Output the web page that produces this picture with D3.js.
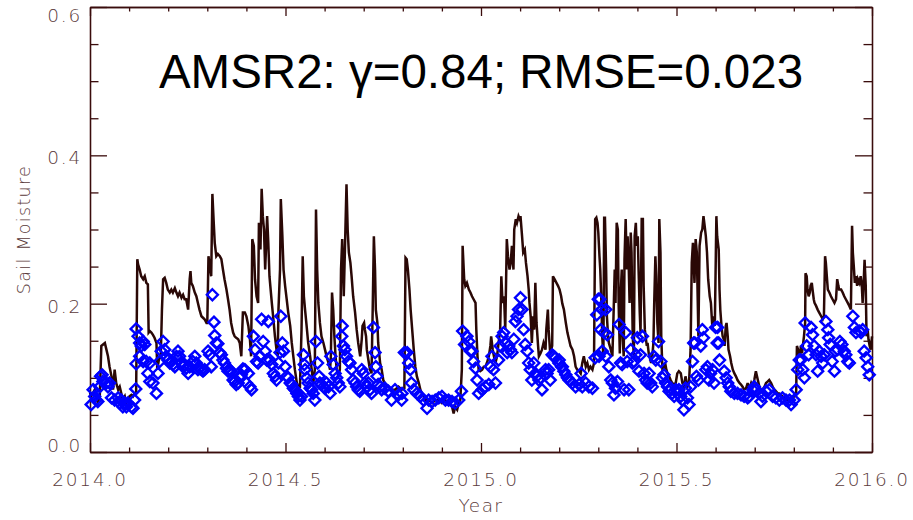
<!DOCTYPE html>
<html>
<head>
<meta charset="utf-8">
<script src="https://cdn.jsdelivr.net/npm/d3@7"></script>
<style>
  body { margin: 0; background: #fff; }
  svg { display: block; }
</style>
</head>
<body>
<div id="container"></div>
<script>
/* DATA */
// [years after 2014.0, soil moisture] - in situ daily record (dark line)
const insituSeries = [
  [.000,.080],[.003,.075],[.012,.084],[.020,.066],[.025,.075],[.029,.143],[.038,.147],[.042,.138],[.046,.129],[.050,.115],
  [.055,.102],[.059,.084],[.063,.111],[.067,.093],[.072,.084],[.076,.088],[.080,.079],[.084,.070],[.089,.075],[.093,.066],
  [.097,.070],[.101,.075],[.106,.077],[.110,.075],[.114,.079],[.118,.080],[.121,.260],[.123,.253],[.127,.246],[.131,.237],
  [.136,.233],[.140,.237],[.144,.228],[.148,.226],[.150,.161],[.153,.163],[.157,.161],[.161,.158],[.165,.154],[.170,.147],
  [.172,.111],[.176,.124],[.181,.129],[.184,.192],[.187,.233],[.191,.235],[.195,.228],[.199,.219],[.204,.215],[.208,.219],
  [.212,.215],[.217,.221],[.221,.215],[.225,.210],[.229,.215],[.234,.208],[.238,.212],[.242,.206],[.246,.206],[.251,.192],
  [.255,.233],[.257,.244],[.259,.228],[.263,.224],[.268,.215],[.272,.210],[.276,.201],[.280,.192],[.285,.183],[.289,.181],
  [.293,.179],[.298,.174],[.300,.174],[.303,.264],[.306,.253],[.310,.237],[.313,.348],[.316,.314],[.319,.282],[.323,.264],
  [.327,.267],[.332,.264],[.336,.260],[.340,.246],[.344,.233],[.349,.219],[.353,.206],[.357,.192],[.361,.174],[.366,.161],
  [.370,.156],[.374,.154],[.379,.152],[.383,.147],[.387,.129],[.391,.188],[.396,.188],[.400,.183],
  [.405,.170],[.409,.152],[.412,.129],[.415,.287],[.419,.278],[.422,.233],[.426,.210],[.430,.201],[.432,.309],[.436,.273],
  [.439,.355],[.442,.318],[.445,.300],[.448,.246],[.450,.273],[.453,.318],[.456,.282],[.459,.237],[.462,.219],[.465,.201],
  [.469,.179],[.473,.156],[.477,.138],[.480,.129],[.482,.192],[.486,.246],[.488,.341],[.492,.291],[.495,.246],[.499,.224],
  [.503,.206],[.507,.188],[.512,.170],[.516,.147],[.520,.129],[.524,.111],[.529,.093],[.533,.088],[.537,.088],[.541,.165],
  [.544,.264],[.547,.210],[.550,.192],[.554,.170],[.558,.147],[.563,.129],[.567,.111],[.571,.093],[.575,.111],[.578,.327],
  [.581,.246],[.584,.201],[.588,.174],[.592,.156],[.597,.147],[.601,.138],[.605,.129],[.610,.120],[.614,.111],[.616,.129],
  [.619,.215],[.622,.192],[.625,.156],[.628,.129],[.631,.111],[.635,.102],[.639,.111],[.642,.246],[.645,.287],[.649,.210],
  [.652,.273],[.656,.361],[.659,.300],[.662,.269],[.666,.255],[.669,.237],[.673,.210],[.678,.188],[.682,.165],[.686,.147],
  [.691,.129],[.695,.152],[.697,.170],[.701,.174],[.703,.165],[.706,.156],[.708,.138],[.712,.124],[.716,.111],[.720,.106],
  [.723,.192],[.726,.291],[.729,.246],[.731,.192],[.735,.174],[.737,.147],[.742,.120],[.746,.111],[.750,.097],[.754,.093],
  [.763,.088],[.771,.084],[.780,.084],[.789,.088],[.797,.084],[.804,.086],
  [.807,.262],[.810,.260],[.813,.246],[.817,.219],[.820,.192],[.824,.165],[.828,.138],[.832,.115],[.836,.102],[.841,.093],
  [.845,.084],[.849,.079],[.853,.075],[.858,.070],[.866,.070],[.875,.066],[.883,.070],[.892,.070],[.900,.066],[.909,.070],
  [.917,.066],[.926,.061],[.930,.052],[.934,.061],[.939,.057],[.943,.066],[.947,.070],[.951,.111],[.953,.278],[.957,.233],
  [.960,.224],[.964,.228],[.969,.219],[.973,.215],[.977,.210],[.981,.206],[.986,.201],[.988,.165],[.991,.129],[.994,.111],
  [.998,.109],[1.003,.111],[1.007,.115],[1.011,.115],[1.015,.120],[1.020,.129],[1.024,.143],[1.026,.156],[1.030,.138],[1.033,.129],
  [1.037,.120],[1.041,.129],[1.045,.147],[1.049,.165],[1.052,.237],[1.055,.201],[1.059,.210],[1.062,.165],[1.066,.287],[1.069,.264],
  [1.073,.246],[1.076,.255],[1.079,.278],[1.083,.246],[1.085,.300],[1.089,.314],[1.092,.309],[1.096,.318],[1.099,.314],[1.101,.318],
  [1.105,.291],[1.108,.269],[1.112,.273],[1.115,.255],[1.119,.237],[1.122,.219],[1.124,.201],[1.127,.183],[1.130,.147],[1.133,.183],
  [1.136,.165],[1.139,.228],[1.142,.174],[1.146,.143],[1.148,.129],[1.152,.133],[1.156,.138],[1.160,.147],[1.165,.138],[1.167,.165],
  [1.171,.192],[1.173,.165],[1.177,.133],[1.182,.143],[1.184,.237],[1.188,.233],[1.193,.228],[1.197,.224],[1.201,.219],[1.205,.210],
  [1.208,.200],[1.212,.192],[1.217,.174],[1.221,.161],[1.225,.152],[1.229,.143],[1.234,.138],[1.238,.129],[1.242,.115],[1.246,.111],
  [1.251,.109],[1.255,.106],[1.259,.120],[1.263,.129],[1.268,.115],[1.272,.120],[1.276,.111],[1.280,.115],[1.285,.111],[1.289,.120],
  [1.292,.314],[1.295,.316],[1.298,.309],[1.300,.296],[1.303,.264],[1.305,.246],[1.308,.201],[1.310,.156],[1.313,.129],[1.315,.316],
  [1.317,.316],[1.320,.246],[1.322,.183],[1.325,.156],[1.327,.147],[1.332,.138],[1.336,.129],[1.338,.165],[1.342,.246],[1.344,.201],
  [1.347,.309],[1.350,.300],[1.352,.201],[1.355,.133],[1.357,.210],[1.360,.246],[1.362,.156],[1.365,.129],[1.367,.260],[1.370,.314],
  [1.373,.246],[1.375,.291],[1.378,.246],[1.380,.201],[1.383,.296],[1.385,.269],[1.388,.156],[1.391,.129],[1.393,.291],[1.396,.309],
  [1.398,.278],[1.401,.291],[1.403,.246],[1.406,.188],[1.408,.161],[1.411,.314],[1.414,.314],[1.416,.224],[1.419,.165],[1.421,.156],
  [1.424,.143],[1.426,.147],[1.429,.133],[1.431,.129],[1.435,.120],[1.438,.129],[1.441,.147],[1.443,.201],[1.446,.264],[1.448,.237],
  [1.451,.174],[1.454,.147],[1.456,.314],[1.459,.269],[1.461,.156],[1.464,.111],[1.467,.111],[1.471,.120],[1.474,.111],[1.477,.106],
  [1.481,.102],[1.485,.097],[1.489,.093],[1.494,.091],[1.498,.093],[1.502,.106],[1.506,.109],[1.511,.106],[1.515,.093],[1.519,.088],
  [1.523,.102],[1.528,.088],[1.532,.093],[1.536,.138],[1.539,.255],[1.542,.282],[1.546,.228],[1.549,.287],[1.552,.269],[1.556,.156],
  [1.559,.278],[1.563,.296],[1.566,.300],[1.569,.318],[1.572,.305],[1.575,.291],[1.578,.269],[1.581,.233],[1.585,.210],[1.588,.201],
  [1.592,.165],[1.595,.183],[1.598,.170],[1.602,.318],
  [1.604,.291],[1.608,.273],[1.610,.219],[1.612,.192],[1.615,.170],[1.618,.156],[1.621,.152],[1.623,.143],[1.626,.170],[1.628,.174],
  [1.631,.156],[1.633,.138],[1.637,.129],[1.640,.120],[1.644,.111],[1.648,.106],[1.652,.102],[1.656,.097],[1.661,.093],[1.665,.091],
  [1.669,.088],[1.673,.084],[1.678,.086],[1.682,.093],[1.685,.084],[1.688,.088],[1.691,.093],[1.695,.088],[1.699,.097],[1.703,.109],
  [1.708,.097],[1.712,.088],[1.716,.084],[1.720,.084],[1.725,.088],[1.729,.093],[1.733,.095],[1.737,.097],[1.742,.093],[1.746,.088],
  [1.750,.084],[1.754,.082],[1.759,.079],[1.763,.079],[1.767,.077],[1.771,.075],[1.776,.073],[1.780,.070],[1.784,.070],[1.789,.070],
  [1.793,.070],[1.797,.073],[1.801,.075],[1.806,.079],[1.808,.143],[1.811,.138],[1.813,.129],[1.816,.129],[1.818,.143],[1.821,.133],
  [1.824,.147],[1.826,.156],[1.829,.174],[1.830,.241],[1.833,.237],[1.835,.219],[1.838,.210],[1.841,.215],[1.843,.224],[1.846,.228],
  [1.848,.219],[1.851,.206],[1.853,.201],[1.857,.197],[1.861,.192],[1.865,.188],[1.870,.183],[1.874,.179],[1.877,.183],[1.880,.264],
  [1.882,.255],[1.885,.233],[1.887,.219],[1.891,.215],[1.895,.210],[1.899,.206],[1.904,.201],[1.908,.206],[1.911,.233],[1.914,.224],
  [1.916,.219],[1.921,.219],[1.925,.215],[1.929,.210],[1.933,.206],[1.938,.201],[1.942,.197],[1.946,.192],[1.949,.305],[1.951,.269],
  [1.954,.246],[1.956,.228],[1.959,.237],[1.962,.224],[1.964,.233],[1.968,.228],[1.971,.237],[1.974,.224],[1.976,.201],[1.979,.233],
  [1.981,.259],[1.984,.224],[1.986,.156],[1.989,.165],[1.991,.152],[1.994,.143],[1.997,.138],[2.000,.156]
];

// [years after 2014.0, soil moisture] - AMSR2 retrievals (blue diamonds)
const amsr2Series = [
  [.008,.084],[.012,.075],[.003,.064],[.016,.070],[.020,.068],[.025,.088],[.027,.102],[.031,.104],[.033,.095],[.042,.093],
  [.046,.088],[.050,.093],[.055,.073],[.063,.070],[.072,.073],[.076,.066],[.080,.070],[.084,.061],[.089,.066],[.093,.061],
  [.097,.066],[.106,.061],[.110,.059],[.114,.070],[.117,.085],[.118,.119],[.118,.166],[.123,.156],[.127,.147],[.131,.143],
  [.136,.149],[.140,.145],[.127,.129],[.136,.122],[.144,.122],[.153,.120],[.148,.106],[.153,.095],[.161,.093],[.170,.079],
  [.174,.106],[.178,.122],[.182,.136],[.187,.149],[.191,.138],[.195,.129],[.199,.124],[.204,.120],[.208,.122],[.212,.118],
  [.217,.115],[.221,.129],[.225,.136],[.229,.129],[.234,.120],[.238,.115],[.242,.118],[.246,.113],[.251,.106],[.255,.115],
  [.263,.122],[.268,.129],[.272,.120],[.276,.111],[.280,.113],[.285,.111],[.289,.109],[.293,.111],[.302,.136],[.306,.131],
  [.310,.115],[.313,.212],[.317,.175],[.319,.157],[.323,.147],[.327,.146],[.332,.134],[.336,.131],[.340,.124],[.344,.120],
  [.349,.113],[.353,.109],[.357,.111],[.361,.109],[.366,.097],[.370,.095],[.374,.091],[.379,.093],[.383,.100],[.387,.104],
  [.391,.112],[.396,.111],[.400,.093],
  [.405,.106],[.409,.088],[.413,.084],[.418,.156],[.422,.138],[.426,.122],[.430,.120],[.435,.129],[.439,.179],[.443,.149],
  [.448,.136],[.452,.124],[.456,.176],[.460,.124],[.465,.118],[.469,.106],[.473,.102],[.477,.097],[.482,.120],[.486,.134],
  [.488,.183],[.492,.147],[.495,.136],[.499,.115],[.503,.102],[.507,.100],[.512,.093],[.516,.091],[.520,.086],[.524,.084],
  [.529,.079],[.533,.075],[.537,.070],[.541,.075],[.546,.131],[.548,.118],[.550,.111],[.554,.100],[.558,.093],[.563,.086],
  [.567,.084],[.571,.079],[.575,.070],[.578,.149],[.582,.120],[.586,.102],[.588,.093],[.592,.091],[.597,.088],[.601,.086],
  [.605,.093],[.610,.088],[.614,.079],[.616,.129],[.622,.118],[.627,.106],[.631,.100],[.635,.093],[.639,.088],[.644,.156],
  [.645,.170],[.648,.143],[.652,.138],[.656,.129],[.661,.122],[.665,.120],[.669,.111],[.673,.097],[.678,.093],[.682,.088],
  [.686,.084],[.690,.082],[.695,.111],[.699,.106],[.703,.093],[.708,.088],[.712,.093],[.716,.084],[.720,.079],[.725,.168],
  [.729,.134],[.731,.115],[.734,.102],[.737,.091],[.742,.088],[.746,.084],[.754,.086],[.763,.082],[.771,.070],[.780,.084],
  [.789,.077],[.797,.070],[.804,.134],
  [.798,.079],[.811,.134],[.815,.120],[.819,.111],[.822,.093],[.828,.084],[.836,.079],[.845,.075],[.853,.070],[.862,.059],
  [.866,.070],[.875,.068],[.883,.070],[.892,.073],[.900,.075],[.909,.070],[.917,.070],[.926,.068],[.934,.066],[.943,.070],
  [.950,.082],[.953,.163],[.958,.145],[.964,.156],[.969,.149],[.973,.136],[.977,.136],[.981,.122],[.986,.113],[.990,.097],
  [.994,.079],[1.003,.084],[1.011,.088],[1.020,.091],[1.024,.115],[1.028,.129],[1.032,.111],[1.037,.093],[1.045,.124],[1.049,.143],
  [1.054,.156],[1.058,.161],[1.062,.147],[1.067,.134],[1.071,.143],[1.075,.138],[1.079,.134],[1.084,.152],[1.088,.176],[1.092,.183],
  [1.096,.192],[1.101,.208],[1.105,.192],[1.109,.165],[1.113,.145],[1.118,.136],[1.122,.120],[1.126,.111],[1.130,.097],[1.135,.120],
  [1.139,.106],[1.143,.102],[1.148,.097],[1.152,.100],[1.156,.084],[1.165,.111],[1.169,.106],[1.173,.111],[1.177,.097],[1.182,.131],
  [1.186,.129],[1.190,.127],[1.199,.120],[1.206,.115],
  [1.200,.124],[1.208,.115],[1.212,.109],[1.217,.104],[1.221,.100],[1.225,.097],[1.234,.093],[1.242,.088],[1.251,.091],[1.256,.106],
  [1.259,.088],[1.268,.093],[1.276,.088],[1.285,.086],[1.292,.127],[1.296,.185],[1.300,.206],[1.304,.206],[1.309,.192],[1.319,.192],
  [1.306,.165],[1.315,.161],[1.323,.158],[1.302,.129],[1.310,.136],[1.319,.129],[1.327,.115],[1.332,.097],[1.336,.093],[1.340,.077],
  [1.344,.086],[1.349,.095],[1.353,.172],[1.357,.120],[1.361,.118],[1.366,.084],[1.370,.161],[1.374,.122],[1.378,.084],[1.383,.138],
  [1.387,.120],[1.391,.122],[1.396,.131],[1.400,.154],[1.404,.109],[1.408,.131],[1.413,.156],[1.417,.106],[1.421,.097],[1.425,.093],
  [1.430,.106],[1.434,.093],[1.438,.088],[1.442,.129],[1.447,.124],[1.454,.149],[1.460,.122],[1.464,.100],[1.468,.104],[1.472,.093],
  [1.477,.088],[1.481,.082],[1.485,.086],[1.489,.079],[1.494,.075],[1.498,.084],[1.502,.079],[1.506,.084],[1.511,.075],[1.515,.070],
  [1.519,.057],[1.523,.086],[1.528,.073],[1.532,.064],[1.536,.088],[1.541,.122],[1.544,.147],[1.547,.147],[1.551,.102],[1.556,.097],
  [1.562,.143],[1.566,.165],[1.569,.154],[1.575,.111],[1.579,.115],[1.583,.097],[1.587,.106],[1.592,.111],[1.596,.093],[1.600,.168],
  [1.604,.147],
  [1.605,.168],[1.608,.147],[1.610,.124],[1.622,.109],[1.627,.100],[1.631,.093],[1.635,.088],[1.639,.082],[1.648,.079],[1.656,.079],
  [1.665,.077],[1.673,.075],[1.682,.073],[1.686,.075],[1.695,.084],[1.699,.088],[1.703,.084],[1.712,.079],[1.716,.068],[1.720,.075],
  [1.729,.082],[1.737,.084],[1.746,.075],[1.754,.073],[1.763,.070],[1.771,.073],[1.780,.070],[1.789,.070],[1.793,.064],[1.801,.070],
  [1.806,.084],[1.810,.111],[1.814,.124],[1.818,.124],[1.823,.111],[1.827,.100],[1.829,.174],[1.833,.143],[1.838,.131],[1.844,.168],
  [1.848,.158],[1.852,.143],[1.857,.131],[1.861,.109],[1.865,.136],[1.870,.129],[1.874,.120],[1.878,.131],[1.882,.176],[1.887,.165],
  [1.889,.154],[1.893,.145],[1.898,.122],[1.904,.109],[1.906,.136],[1.912,.138],[1.918,.149],[1.923,.145],[1.929,.136],[1.933,.131],
  [1.938,.122],[1.942,.120],[1.951,.183],[1.955,.168],[1.959,.161],[1.968,.163],[1.972,.161],[1.976,.165],[1.980,.136],[1.985,.127],
  [1.989,.115],[1.993,.104]
];

const startYear = 2014.0;
const xTickValues = [2014.0, 2014.5, 2015.0, 2015.5, 2016.0];
const yTickValues = [0.0, 0.2, 0.4, 0.6];
const titleText = "AMSR2: \u03b3=0.84; RMSE=0.023";
const xLabel = "Year";
const yLabel = "Sail Moisture";

/* CONSTANTS */
const width = 913, height = 520;
const margin = {top: 7, right: 41, bottom: 68, left: 90};
const axisColor = "#3a0c0c";
const labelColor = "#5a3a3a";
const lineColor = "#2a0806";
const dotColor = "#0000ff";

const svg = d3.select("#container").append("svg")
  .attr("width", width)
  .attr("height", height);

const xScale = d3.scaleLinear()
  .domain([2014, 2016])
  .range([margin.left, width - margin.right]);

const yScale = d3.scaleLinear()
  .domain([0, 0.6])
  .range([height - margin.bottom, margin.top]);

const xMinor = d3.range(2014, 2016.001, 0.1).map(d => +d.toFixed(1)).filter(d => !xTickValues.includes(d));
const yMinor = d3.range(0, 0.601, 0.05).map(d => +d.toFixed(2)).filter(d => !yTickValues.includes(d));

// + AXES (IDL style: ticks point inward on all four sides)
function styleAxis(g) {
  g.selectAll("path, line").attr("stroke", axisColor).attr("stroke-width", 1.3);
  g.selectAll("text").remove();
}

const bottomAxisG = svg.append("g").attr("transform", `translate(0,${yScale(0)})`);
bottomAxisG.append("g").call(d3.axisBottom(xScale).tickValues(xTickValues).tickSize(-9).tickSizeOuter(0)).call(styleAxis);
bottomAxisG.append("g").call(d3.axisBottom(xScale).tickValues(xMinor).tickSize(-4.5).tickSizeOuter(0)).call(styleAxis);

const topAxisG = svg.append("g").attr("transform", `translate(0,${yScale(0.6)})`);
topAxisG.append("g").call(d3.axisTop(xScale).tickValues(xTickValues).tickSize(-9).tickSizeOuter(0)).call(styleAxis);
topAxisG.append("g").call(d3.axisTop(xScale).tickValues(xMinor).tickSize(-4.5).tickSizeOuter(0)).call(styleAxis);

const leftAxisG = svg.append("g").attr("transform", `translate(${xScale(2014)},0)`);
leftAxisG.append("g").call(d3.axisLeft(yScale).tickValues(yTickValues).tickSize(-17).tickSizeOuter(0)).call(styleAxis);
leftAxisG.append("g").call(d3.axisLeft(yScale).tickValues(yMinor).tickSize(-8.5).tickSizeOuter(0)).call(styleAxis);

const rightAxisG = svg.append("g").attr("transform", `translate(${xScale(2016)},0)`);
rightAxisG.append("g").call(d3.axisRight(yScale).tickValues(yTickValues).tickSize(-17).tickSizeOuter(0)).call(styleAxis);
rightAxisG.append("g").call(d3.axisRight(yScale).tickValues(yMinor).tickSize(-8.5).tickSizeOuter(0)).call(styleAxis);

// tick labels
const labelFont = "'DejaVu Sans', sans-serif";
svg.append("g").selectAll("text")
  .data(xTickValues)
  .join("text")
  .attr("x", d => xScale(d))
  .attr("y", yScale(0) + 34)
  .attr("text-anchor", "middle")
  .attr("font-family", labelFont)
  .attr("font-weight", 200)
  .attr("font-size", 18.5)
  .attr("letter-spacing", 1.8)
  .attr("fill", labelColor)
  .text(d => d.toFixed(1));

svg.append("g").selectAll("text")
  .data(yTickValues)
  .join("text")
  .attr("x", xScale(2014) - 8)
  .attr("y", (d, i) => {
    if (i === 0) return yScale(d);
    if (i === yTickValues.length - 1) return yScale(d) + 15;
    return yScale(d) + 9;
  })
  .attr("text-anchor", "end")
  .attr("font-family", labelFont)
  .attr("font-weight", 200)
  .attr("font-size", 18.5)
  .attr("letter-spacing", 1.8)
  .attr("fill", labelColor)
  .text(d => d.toFixed(1));

// axis titles
svg.append("text")
  .attr("x", (xScale(2014) + xScale(2016)) / 2)
  .attr("y", 512)
  .attr("text-anchor", "middle")
  .attr("font-family", labelFont)
  .attr("font-weight", 200)
  .attr("font-size", 18.5)
  .attr("letter-spacing", 1.4)
  .attr("fill", labelColor)
  .text(xLabel);

svg.append("text")
  .attr("transform", `translate(30,${(yScale(0) + yScale(0.6)) / 2}) rotate(-90)`)
  .attr("text-anchor", "middle")
  .attr("font-family", labelFont)
  .attr("font-weight", 200)
  .attr("font-size", 17.5)
  .attr("letter-spacing", 1.3)
  .attr("fill", labelColor)
  .text(yLabel);

// + IN SITU LINE
const line = d3.line()
  .x(d => xScale(startYear + d[0]))
  .y(d => yScale(d[1]));

svg.append("path")
  .datum(insituSeries)
  .attr("d", line)
  .attr("fill", "none")
  .attr("stroke", lineColor)
  .attr("stroke-width", 2.5)
  .attr("stroke-linejoin", "miter");

// + AMSR2 DIAMONDS
const r = 5.5;
svg.append("g").selectAll("path.dot")
  .data(amsr2Series)
  .join("path")
  .attr("class", "dot")
  .attr("transform", d => `translate(${xScale(startYear + d[0])},${yScale(d[1])})`)
  .attr("d", `M0,${-r}L${r},0L0,${r}L${-r},0Z`)
  .attr("fill", "none")
  .attr("stroke", dotColor)
  .attr("stroke-width", 2.4);

// + TITLE
svg.append("text")
  .attr("x", 481)
  .attr("y", 88)
  .attr("text-anchor", "middle")
  .attr("font-family", "'Liberation Sans', Arial, sans-serif")
  .attr("font-size", 47.5)
  .attr("fill", "#000")
  .text(titleText);
</script>
</body>
</html>
